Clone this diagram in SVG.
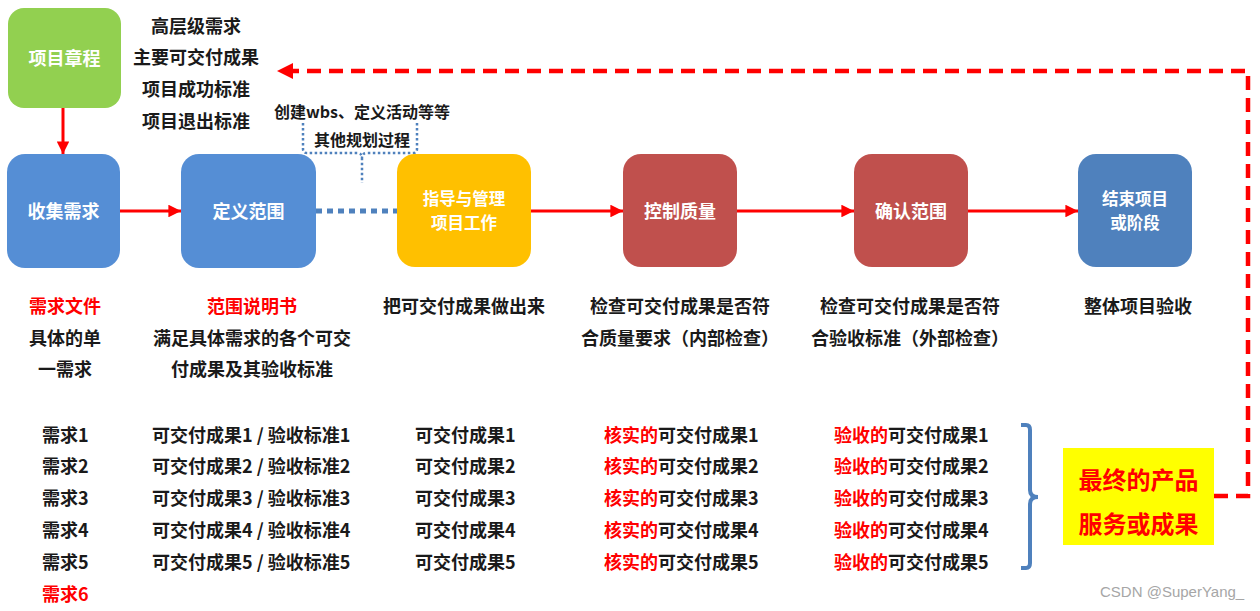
<svg xmlns="http://www.w3.org/2000/svg" width="1260" height="611" viewBox="0 0 1260 611">
<style>
text{font-family:"Noto Sans CJK SC","Liberation Sans",sans-serif;font-weight:700;font-size:18px;fill:#1a1a1a}
.w{fill:#ffffff;text-anchor:middle}
.w2{font-size:16.5px}
.c{text-anchor:middle}
.r{fill:#ff0000}
.s16{font-size:16px}
.big{font-size:24px;fill:#ff0000;text-anchor:middle}
.wm{font-family:"Liberation Sans",sans-serif;font-weight:400;font-size:15px;fill:#a6a6a6}
.arrow{stroke:#ff0000;stroke-width:3;fill:none}
</style>
<defs>
<marker id="ah" viewBox="0 0 10 10" refX="10" refY="5" markerWidth="4.2" markerHeight="4.2" orient="auto" markerUnits="strokeWidth">
<path d="M0,0 L10,5 L0,10 z" fill="#ff0000"/>
</marker>
</defs>
<rect width="1260" height="611" fill="#ffffff"/>

<g id="connectors">
<line class="arrow" x1="63" y1="108" x2="63" y2="154" marker-end="url(#ah)"/>
<line class="arrow" x1="120" y1="211" x2="181" y2="211" marker-end="url(#ah)"/>
<line class="arrow" x1="531" y1="211" x2="623" y2="211" marker-end="url(#ah)"/>
<line class="arrow" x1="737" y1="211" x2="854" y2="211" marker-end="url(#ah)"/>
<line class="arrow" x1="968" y1="211" x2="1078" y2="211" marker-end="url(#ah)"/>
<line x1="316" y1="211" x2="397" y2="211" stroke="#4F81BD" stroke-width="5" stroke-dasharray="6 5"/>
<path d="M1214,496 H1248 V71 H292" fill="none" stroke="#ff0000" stroke-width="4.5" stroke-dasharray="14 8"/>
<path d="M277,71 L293,63 L293,79 z" fill="#ff0000"/>
<path d="M303,123 V149 Q303,153 307,153 H357 Q362,153 362,158 V183 M417,123 V149 Q417,153 413,153 H367 Q362,153 362,158" fill="none" stroke="#4F81BD" stroke-width="2.5" stroke-dasharray="2.5 2.5"/>
<path d="M1021,425 H1026 Q1030,425 1030,430 V490 Q1030,497 1038,497 Q1030,497 1030,504 V563 Q1030,568 1026,568 H1021" fill="none" stroke="#4F81BD" stroke-width="4"/>
</g>

<g id="charter">
<rect x="8" y="8" width="113" height="100" rx="16" fill="#92D050"/>
<text class="w" x="64.5" y="64.5">项目章程</text>
</g>
<g id="collect">
<rect x="7" y="154" width="113" height="114" rx="18" fill="#558ED5"/>
<text class="w" x="63.5" y="217.5">收集需求</text>
</g>
<g id="define">
<rect x="181" y="154" width="135" height="114" rx="18" fill="#558ED5"/>
<text class="w" x="248.5" y="217.5">定义范围</text>
</g>
<g id="direct">
<rect x="397" y="154" width="134" height="113" rx="18" fill="#FFC000"/>
<text class="w w2" x="464" y="205">指导与管理</text>
<text class="w w2" x="464" y="229">项目工作</text>
</g>
<g id="quality">
<rect x="623" y="154" width="114" height="113" rx="18" fill="#C0504D"/>
<text class="w" x="680" y="217.5">控制质量</text>
</g>
<g id="validate">
<rect x="854" y="154" width="114" height="113" rx="18" fill="#C0504D"/>
<text class="w" x="911" y="217.5">确认范围</text>
</g>
<g id="close">
<rect x="1078" y="154" width="114" height="113" rx="18" fill="#4F81BD"/>
<text class="w w2" x="1135" y="205">结束项目</text>
<text class="w w2" x="1135" y="229">或阶段</text>
</g>
<g id="final">
<rect x="1063" y="448" width="151" height="97" fill="#FFFF00"/>
<text class="big" x="1138.5" y="488.5">最终的产品</text>
<text class="big" x="1138.5" y="532.5">服务或成果</text>
</g>

<g id="charter-notes">
<text class="c" x="196" y="33">高层级需求</text>
<text class="c" x="196" y="64">主要可交付成果</text>
<text class="c" x="196" y="96">项目成功标准</text>
<text class="c" x="196" y="128">项目退出标准</text>
</g>
<g id="planning-note">
<text class="c s16" x="362" y="117.5">创建wbs、定义活动等等</text>
<text class="c s16" x="362" y="146">其他规划过程</text>
</g>

<g id="descriptions">
<text class="c r" x="65" y="312.5">需求文件</text>
<text class="c" x="65" y="344.5">具体的单</text>
<text class="c" x="65" y="375.5">一需求</text>
<text class="c r" x="252" y="312.5">范围说明书</text>
<text class="c" x="252" y="344.5">满足具体需求的各个可交</text>
<text class="c" x="252" y="375.5">付成果及其验收标准</text>
<text class="c" x="464" y="312.5">把可交付成果做出来</text>
<text class="c" x="680" y="312.5">检查可交付成果是否符</text>
<text class="c" x="680" y="344.5">合质量要求（内部检查）</text>
<text class="c" x="910" y="312.5">检查可交付成果是否符</text>
<text class="c" x="910" y="344.5">合验收标准（外部检查）</text>
<text class="c" x="1138" y="312.5">整体项目验收</text>
</g>

<g id="lists">
<text x="42" y="441.5">需求1</text>
<text x="42" y="472.5">需求2</text>
<text x="42" y="504.5">需求3</text>
<text x="42" y="536.5">需求4</text>
<text x="42" y="568.5">需求5</text>
<text class="r" x="42" y="600.5">需求6</text>

<text x="152" y="441.5">可交付成果1 / 验收标准1</text>
<text x="152" y="472.5">可交付成果2 / 验收标准2</text>
<text x="152" y="504.5">可交付成果3 / 验收标准3</text>
<text x="152" y="536.5">可交付成果4 / 验收标准4</text>
<text x="152" y="568.5">可交付成果5 / 验收标准5</text>

<text x="415" y="441.5">可交付成果1</text>
<text x="415" y="472.5">可交付成果2</text>
<text x="415" y="504.5">可交付成果3</text>
<text x="415" y="536.5">可交付成果4</text>
<text x="415" y="568.5">可交付成果5</text>

<text x="604" y="441.5"><tspan class="r">核实的</tspan>可交付成果1</text>
<text x="604" y="472.5"><tspan class="r">核实的</tspan>可交付成果2</text>
<text x="604" y="504.5"><tspan class="r">核实的</tspan>可交付成果3</text>
<text x="604" y="536.5"><tspan class="r">核实的</tspan>可交付成果4</text>
<text x="604" y="568.5"><tspan class="r">核实的</tspan>可交付成果5</text>

<text x="834" y="441.5"><tspan class="r">验收的</tspan>可交付成果1</text>
<text x="834" y="472.5"><tspan class="r">验收的</tspan>可交付成果2</text>
<text x="834" y="504.5"><tspan class="r">验收的</tspan>可交付成果3</text>
<text x="834" y="536.5"><tspan class="r">验收的</tspan>可交付成果4</text>
<text x="834" y="568.5"><tspan class="r">验收的</tspan>可交付成果5</text>
</g>

<text class="wm" x="1100" y="597">CSDN @SuperYang_</text>
</svg>
